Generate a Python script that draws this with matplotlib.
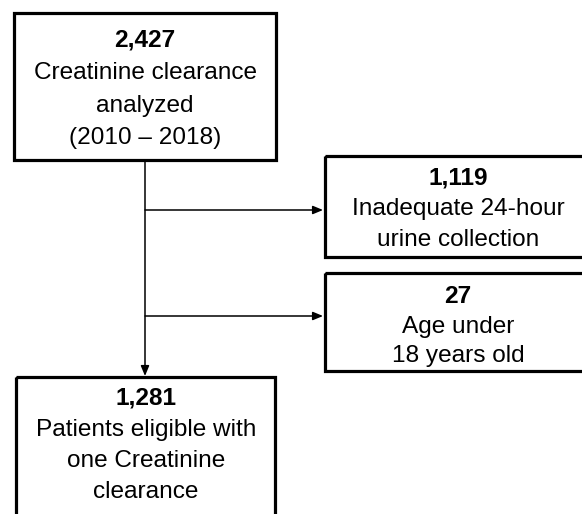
import matplotlib.pyplot as plt
from matplotlib.patches import Rectangle

plt.rcParams["font.family"] = ["Liberation Sans", "DejaVu Sans"]

# flowchart content
counts = ["2,427", "1,119", "27", "1,281"]
labels = [
    ["Creatinine clearance", "analyzed", "(2010 \u2013 2018)"],
    ["Inadequate 24-hour", "urine collection"],
    ["Age under", "18 years old"],
    ["Patients eligible with", "one Creatinine", "clearance"],
]

# box geometry in pixels: x0, y0, x1, y1 (y downwards)
boxes = [
    (14, 13, 276, 160),
    (325, 156, 600, 257),
    (325, 273, 600, 371),
    (16, 377, 275, 540),
]
text_x = [145, 458, 458, 146]
first_base = [47, 185, 303, 405]
line_step = [32.3, 30.5, 29.5, 31]

W, H = 582, 514
fig = plt.figure(figsize=(W / 100, H / 100), dpi=100)
ax = fig.add_axes([0, 0, 1, 1])
ax.set_xlim(0, W)
ax.set_ylim(H, 0)
ax.axis("off")

fs = 17.6
for (x0, y0, x1, y1), cnt, lines, tx, fb, step in zip(
    boxes, counts, labels, text_x, first_base, line_step
):
    ax.add_patch(Rectangle((x0, y0), x1 - x0, y1 - y0, fill=False,
                           edgecolor="black", linewidth=2.3, clip_on=True))
    ax.text(tx, fb, cnt, ha="center", va="baseline", fontsize=fs,
            fontweight="bold")
    for i, ln in enumerate(lines):
        ax.text(tx, fb + step * (i + 1), ln, ha="center", va="baseline",
                fontsize=fs)

# connectors
trunk_x = 145
ax.annotate("", xy=(trunk_x, 376), xytext=(trunk_x, 160),
            arrowprops=dict(arrowstyle="-|>,head_length=0.6,head_width=0.25",
                            color="black", lw=1.1, shrinkA=0, shrinkB=0))
for y in [210, 316]:
    ax.annotate("", xy=(323, y), xytext=(trunk_x, y),
                arrowprops=dict(arrowstyle="-|>,head_length=0.6,head_width=0.25",
                                color="black", lw=1.1, shrinkA=0, shrinkB=0))

fig.savefig("out.png", dpi=100)
